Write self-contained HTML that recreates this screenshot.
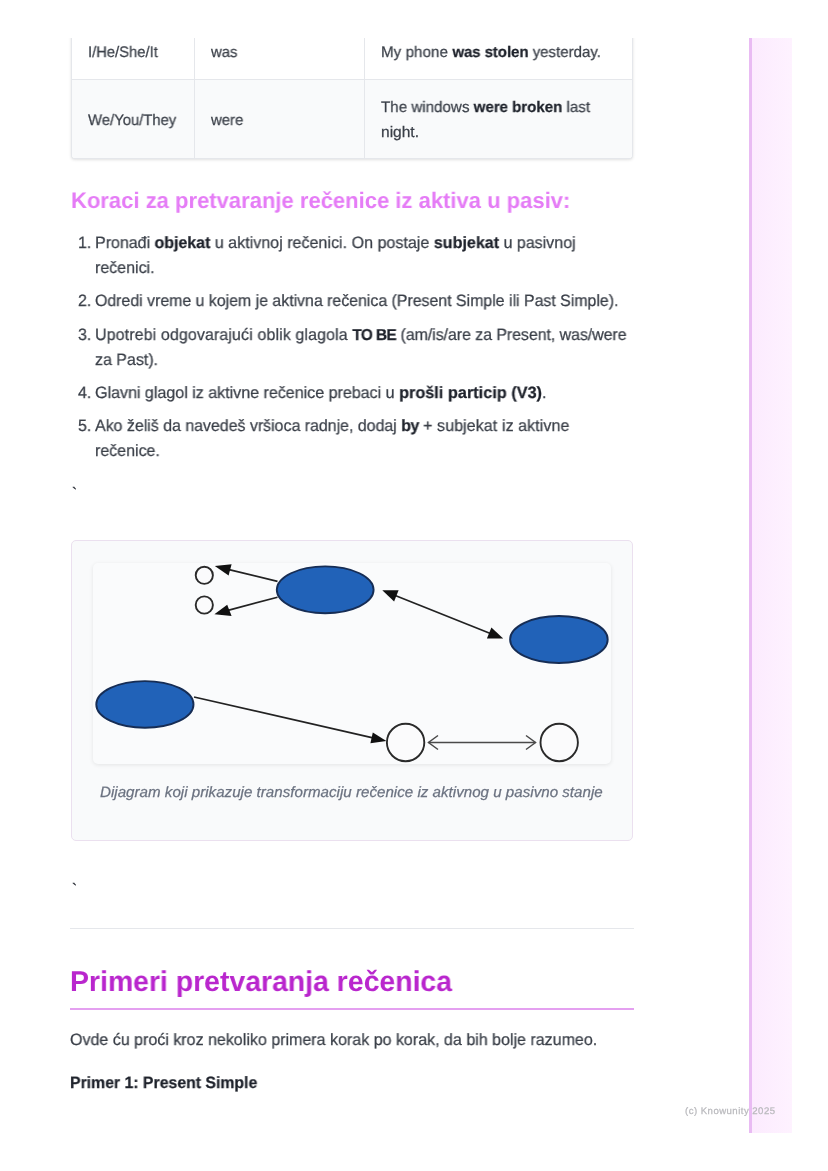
<!DOCTYPE html>
<html lang="sr">
<head>
<meta charset="utf-8">
<title>Pasiv</title>
<style>
html,body{margin:0;padding:0;background:#fff;}
body{width:828px;height:1171px;position:relative;overflow:hidden;font-family:"Liberation Sans",sans-serif;color:#374151;}
.t{position:absolute;white-space:pre;line-height:1;margin:0;padding:0;font-weight:400;will-change:transform;transform-origin:0 50%;text-rendering:geometricPrecision;-webkit-text-stroke:0.25px currentColor;}
b{font-weight:700;color:#1e222b;}
h2.t,h3.t{-webkit-text-stroke:0;}
.td{font-size:15.3px;color:#3a3f48;}
.li{font-size:16.4px;color:#3a3f48;}
.h3{font-size:22.4px;color:#e57cf6;font-weight:700;}
.h2{font-size:28.6px;color:#b926cd;font-weight:700;}
.cap{font-size:15.0px;color:#6b7280;font-style:italic;}
.foot{font-size:9.6px;color:#b9b9bd;}
.bt{font-size:15px;color:#2a2e36;}

#side{position:absolute;left:748.6px;top:38.3px;width:43.2px;height:1094.6px;box-sizing:border-box;border-left:3.2px solid #e9bbf3;background:linear-gradient(90deg,#fcebfe,#fef2ff);}
#tbl{position:absolute;left:71px;top:30px;width:562px;height:129px;box-sizing:border-box;border:1px solid #e5e7eb;border-top:none;border-radius:0 0 4px 4px;background:#fff;box-shadow:0 1px 3px rgba(0,0,0,.12);overflow:hidden;}
#tbl .r2{position:absolute;left:0;top:49px;width:100%;height:80px;background:#f9fafb;border-top:1px solid #e5e7eb;}
#tbl .v{position:absolute;top:0;width:1px;height:100%;background:#e5e7eb;}
#clip{position:absolute;left:0;top:0;width:828px;height:38px;background:#fff;}
#fig{position:absolute;left:71px;top:540px;width:562px;height:301px;box-sizing:border-box;border:1.6px solid #ebe0ef;border-radius:5px;background:#f9fafb;}
#img{position:absolute;left:93px;top:563px;width:518px;height:201px;border-radius:5px;background:#fafbfc;box-shadow:0 1px 4px rgba(0,0,0,.09);overflow:hidden;}
#hr{position:absolute;left:70.3px;top:928px;width:563.5px;height:1px;background:#e5e7eb;}
#h2l{position:absolute;left:70.3px;top:1008px;width:563.5px;height:2px;background:#e4a0f0;}
</style>
</head>
<body>
<div id="tbl"><div class="r2"></div><div class="v" style="left:122px"></div><div class="v" style="left:292px"></div></div>
<div id="clip"></div>
<div id="side"></div>
<div id="fig"></div>
<div id="img">
<svg width="518" height="201" viewBox="93 563 518 201">
  <g stroke="#222" stroke-width="1.7" fill="none">
    <line x1="277.5" y1="581.4" x2="228" y2="569.3"/>
    <line x1="277.5" y1="597.2" x2="228" y2="610.4"/>
    <line x1="394" y1="595" x2="491" y2="633.7"/>
    <line x1="194" y1="697" x2="374" y2="738.2"/>
  </g>
  <g fill="#111">
    <polygon points="214.8,565.9 231.6,564.2 228.6,575.4"/>
    <polygon points="214.4,614.2 227.2,604.8 231.6,616"/>
    <polygon points="382.3,590.3 398.6,590.3 394.1,601.4"/>
    <polygon points="503.2,638.6 486.9,638.6 491.4,627.5"/>
    <polygon points="386.4,740.9 370.4,743.2 372.8,732.4"/>
  </g>
  <g fill="#fbfbfc" stroke="#2a2a2a" stroke-width="1.9">
    <circle cx="204.3" cy="575.3" r="8.6"/>
    <circle cx="204.3" cy="605" r="8.6"/>
    <circle cx="405.6" cy="742.5" r="18.7"/>
    <circle cx="559.2" cy="742.5" r="18.7"/>
  </g>
  <g fill="#2162b8" stroke="#162d55" stroke-width="1.9">
    <ellipse cx="325.2" cy="589.8" rx="48.4" ry="23.4"/>
    <ellipse cx="558.9" cy="639.5" rx="48.8" ry="23.5"/>
    <ellipse cx="144.9" cy="704.4" rx="48.6" ry="23.3"/>
  </g>
  <g stroke="#4a4a4a" stroke-width="1.5" fill="none">
    <line x1="428.5" y1="742.5" x2="535.5" y2="742.5"/>
    <polyline points="438,735.5 428.5,742.5 438,749.5"/>
    <polyline points="526,735.5 535.5,742.5 526,749.5"/>
  </g>
</svg>
</div>
<div id="hr"></div>
<div id="h2l"></div>
<div class="t td" style="left:88.0px;top:45px;transform:scaleX(0.9657)">I/He/She/It</div>
<div class="t td" style="left:211.0px;top:45px;transform:scaleX(0.9742)">was</div>
<div class="t td" style="left:381.0px;top:45px;transform:scaleX(0.9850)"><span style="letter-spacing:0.105px">My phone </span><b style="letter-spacing:-0.086px">was stolen</b><span style="letter-spacing:-0.008px"> yesterday.</span></div>
<div class="t td" style="left:88.0px;top:113px;transform:scaleX(0.9703)">We/You/They</div>
<div class="t td" style="left:211.0px;top:113px;transform:scaleX(0.9742)">were</div>
<div class="t td" style="left:381.0px;top:100px;transform:scaleX(0.9876)"><span style="letter-spacing:0.027px">The windows </span><b style="letter-spacing:-0.047px">were broken</b><span style="letter-spacing:0.037px"> last</span></div>
<div class="t td" style="left:381.0px;top:125px;transform:scaleX(1.0154)">night.</div>
<h3 class="t h3" style="left:70.7px;top:190px;transform:scaleX(0.9833)">Koraci za pretvaranje rečenice iz aktiva u pasiv:</h3>
<div class="t li" style="left:78.4px;top:235px;transform:scaleX(0.9750)">1.</div>
<div class="t li" style="left:95.4px;top:235px;transform:scaleX(0.9786)"><span style="letter-spacing:-0.033px">Pronađi </span><b style="letter-spacing:-0.053px">objekat</b><span style="letter-spacing:0.019px"> u aktivnoj rečenici. On postaje </span><b style="letter-spacing:0.028px">subjekat</b><span style="letter-spacing:-0.019px"> u pasivnoj</span></div>
<div class="t li" style="left:95.4px;top:260px;transform:scaleX(0.9750)">rečenici.</div>
<div class="t li" style="left:78.4px;top:293px;transform:scaleX(0.9750)">2.</div>
<div class="t li" style="left:95.4px;top:293px;transform:scaleX(0.9689)">Odredi vreme u kojem je aktivna rečenica (Present Simple ili Past Simple).</div>
<div class="t li" style="left:78.4px;top:327px;transform:scaleX(0.9750)">3.</div>
<div class="t li" style="left:95.4px;top:327px;transform:scaleX(0.9730)"><span style="letter-spacing:0.132px">Upotrebi odgovarajući oblik glagola </span><b style="letter-spacing:-0.576px;font-size:15.8px">TO BE</b><span style="letter-spacing:-0.059px"> (am/is/are za Present, was/were</span></div>
<div class="t li" style="left:95.4px;top:352px;transform:scaleX(0.9750)">za Past).</div>
<div class="t li" style="left:78.4px;top:385px;transform:scaleX(0.9750)">4.</div>
<div class="t li" style="left:95.4px;top:385px;transform:scaleX(0.9866)"><span style="letter-spacing:-0.058px">Glavni glagol iz aktivne rečenice prebaci u </span><b style="letter-spacing:0.052px">prošli particip (V3)</b><span style="letter-spacing:1.519px">.</span></div>
<div class="t li" style="left:78.4px;top:418px;transform:scaleX(0.9750)">5.</div>
<div class="t li" style="left:95.4px;top:418px;transform:scaleX(0.9743)"><span style="letter-spacing:-0.023px">Ako želiš da navedeš vršioca radnje, dodaj </span><b style="letter-spacing:-0.641px">by</b><span style="letter-spacing:0.103px"> + subjekat iz aktivne</span></div>
<div class="t li" style="left:95.4px;top:443px;transform:scaleX(0.9750)">rečenice.</div>
<div class="t bt" style="left:71.6px;top:486px">`</div>
<div class="t cap" style="left:100.3px;top:785px;transform:scaleX(1.0100)">Dijagram koji prikazuje transformaciju rečenice iz aktivnog u pasivno stanje</div>
<div class="t bt" style="left:71.6px;top:882px">`</div>
<h2 class="t h2" style="left:69.9px;top:968px;transform:scaleX(0.9931)">Primeri pretvaranja rečenica</h2>
<div class="t li" style="left:70.3px;top:1032px;transform:scaleX(0.9775)">Ovde ću proći kroz nekoliko primera korak po korak, da bih bolje razumeo.</div>
<div class="t li" style="left:70.3px;top:1075px;transform:scaleX(0.9652)"><b>Primer 1: Present Simple</b></div>
<div class="t foot" style="left:685.0px;top:1107px"><span style="letter-spacing:0.465px">(c) Knowunity 2025</span></div>
</body>
</html>
